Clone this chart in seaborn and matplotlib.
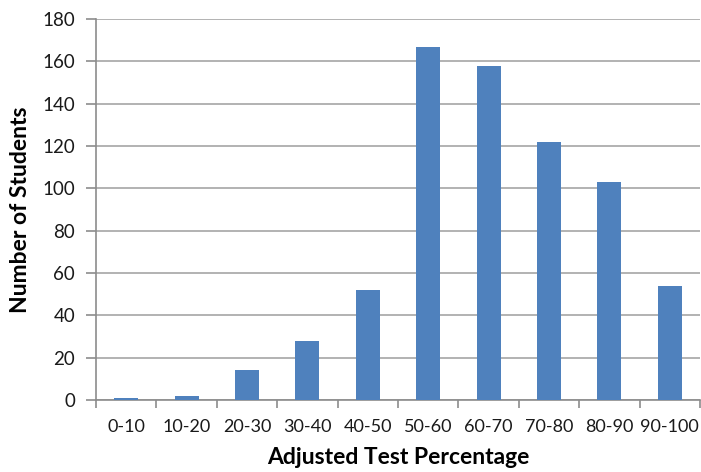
import matplotlib
matplotlib.use("Agg")
import matplotlib.pyplot as plt
import seaborn as sns
import pandas as pd
import numpy as np

categories = ["0-10", "10-20", "20-30", "30-40", "40-50", "50-60", "60-70", "70-80", "80-90", "90-100"]
students = [1, 2, 14, 28, 52, 167, 158, 122, 103, 54]
yticks = [0, 20, 40, 60, 80, 100, 120, 140, 160, 180]

sns.set_theme(style="white")
plt.rcParams['font.family'] = ['Lato', 'DejaVu Sans']

df = pd.DataFrame({"range": categories, "count": students})

fig = plt.figure(figsize=(7.01, 4.72), dpi=100)
ax = fig.add_axes([96/701, 1-400/472, 604/701, 381/472])

sns.barplot(data=df, x="range", y="count", color="#4F81BD", width=0.4, saturation=1,
            linewidth=0, edgecolor="#4F81BD", ax=ax, zorder=3)

ax.set_ylim(0, 180)
ax.set_xlim(-0.5, len(categories) - 0.5)
ax.set_yticks(yticks)
ax.yaxis.grid(True, color="#A6A6A6", linewidth=1.2, zorder=0)
ax.set_axisbelow(True)

for s in ["top", "right"]:
    ax.spines[s].set_visible(False)
for s in ["left", "bottom"]:
    ax.spines[s].set_color("#8C8C8C")
    ax.spines[s].set_linewidth(1.2)

ax.tick_params(axis="y", which="major", length=7, width=1.2, color="#8C8C8C", direction="out",
               labelsize=13.5, labelcolor="#1a1a1a", pad=8, left=True)
ax.tick_params(axis="x", which="major", length=0, labelsize=13, labelcolor="#1a1a1a", pad=14)
ax.set_xticks(np.arange(-0.5, len(categories) + 0.5, 1), minor=True)
ax.tick_params(axis="x", which="minor", length=6, width=1.2, color="#8C8C8C", direction="out", bottom=True)

ax.set_xlabel("Adjusted Test Percentage", fontsize=16.5, fontweight="bold", color="black", labelpad=8)
ax.set_ylabel("Number of Students", fontsize=16.5, fontweight="bold", color="black", labelpad=8)

fig.savefig("out.png", dpi=100)
